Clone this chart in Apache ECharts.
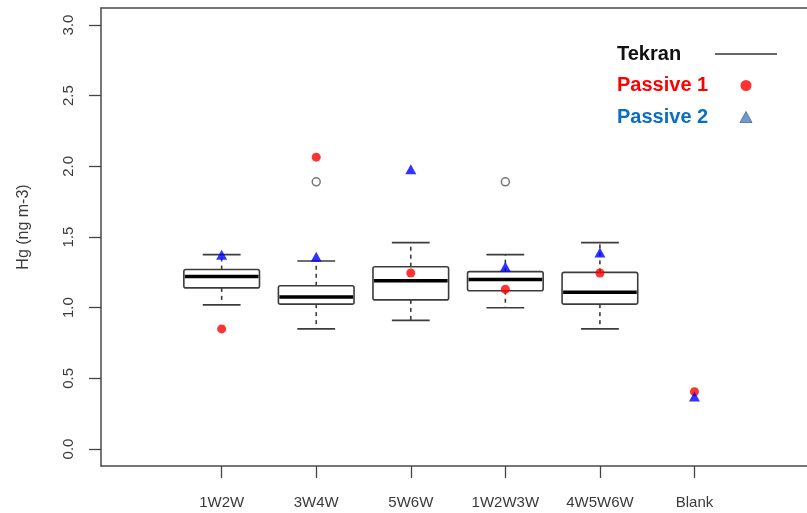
<!DOCTYPE html>
<html>
<head>
<meta charset="utf-8">
<script src="https://cdn.jsdelivr.net/npm/echarts@6/dist/echarts.min.js"></script>
<style>
html,body{margin:0;padding:0;background:#fff;}
#chart{width:807px;height:513px;}
</style>
</head>
<body>
<div id="chart"></div>
<script>
// ---- data ----
const categories = ['1W2W', '3W4W', '5W6W', '1W2W3W', '4W5W6W', 'Blank'];
const yTicks = [0, 0.5, 1.0, 1.5, 2.0, 2.5, 3.0];
// Tekran box statistics (first five categories)
const tekranLow    = [1.02, 0.85, 0.91, 1.00, 0.85];
const tekranQ1     = [1.14, 1.025, 1.055, 1.12, 1.025];
const tekranMedian = [1.22, 1.075, 1.19, 1.20, 1.11];
const tekranQ3     = [1.27, 1.155, 1.29, 1.255, 1.25];
const tekranHigh   = [1.375, 1.33, 1.46, 1.375, 1.46];
// Tekran outliers: [category name, value]
const tekranOutliers = [['3W4W', 1.89], ['1W2W3W', 1.89]];
const passive1 = [0.85, 2.065, 1.245, 1.13, 1.245, 0.405];
const passive2 = [1.375, 1.36, 1.98, 1.29, 1.39, 0.372];

// ---- build ----
const pos = name => categories.indexOf(name) + 1;
const boxData = tekranLow.map((v, i) => [i + 1, v, tekranQ1[i], tekranMedian[i], tekranQ3[i], tekranHigh[i]]);
const outlierData = tekranOutliers.map(d => [pos(d[0]), d[1]]);
const p1Data = passive1.map((v, i) => [i + 1, v]);
const p2Data = passive2.map((v, i) => [i + 1, v]);
const catPositions = categories.map((c, i) => i + 1);

const chart = echarts.init(document.getElementById('chart'), null, {renderer: 'canvas'});
const lineColor = '#3c3c3c';
const frameColor = '#4a4a4a';
const textColor = '#3a3a3a';
const legendFont = {fontFamily: 'Liberation Sans', fontWeight: 'bold', fontSize: 20};
const xMin = -0.276, xMax = 7.19;

chart.setOption({
  animation: false,
  backgroundColor: '#fff',
  grid: {left: 101, top: 8, bottom: 47, right: 0, show: false},
  legend: {
    orient: 'vertical',
    left: 612, top: 38,
    align: 'right',
    itemGap: 9.5,
    itemWidth: 62, itemHeight: 11,
    selectedMode: false,
    formatter: '{t|{name}}',
    textStyle: Object.assign({lineHeight: 22, rich: {t: Object.assign({width: 93, align: 'left', lineHeight: 22}, legendFont)}}, legendFont),
    data: [
      {name: 'Tekran', icon: 'path://M0 0H62V1.5H0Z', itemStyle: {color: '#333'}, textStyle: {color: '#111'}},
      {name: 'Passive 1', icon: 'circle', itemStyle: {color: '#ff0000'}, textStyle: {color: '#ff0000'}},
      {name: 'Passive 2', icon: 'path://M6 0L12 11H0Z', itemStyle: {color: '#4f7fbd', borderColor: '#3d6aa3', borderWidth: 1}, textStyle: {color: '#0a6fc2'}}
    ]
  },
  xAxis: [
    {
      type: 'value',
      position: 'bottom',
      min: xMin, max: xMax,
      axisLine: {show: true, onZero: false, lineStyle: {color: frameColor, width: 1.5}},
      splitLine: {show: false},
      axisTick: {show: true, inside: false, length: 12, customValues: catPositions, lineStyle: {color: '#444', width: 1.3}},
      axisLabel: {
        customValues: catPositions,
        margin: 29,
        fontFamily: 'Liberation Sans', fontSize: 15, color: textColor,
        formatter: v => categories[Math.round(v) - 1] || ''
      }
    },
    {
      type: 'value',
      position: 'top',
      min: xMin, max: xMax,
      axisLine: {show: true, onZero: false, lineStyle: {color: frameColor, width: 1.5}},
      splitLine: {show: false},
      axisTick: {show: false},
      axisLabel: {show: false}
    }
  ],
  yAxis: {
    type: 'value',
    min: -0.12, max: 3.12,
    name: 'Hg (ng m-3)',
    nameLocation: 'middle',
    nameGap: 69,
    nameMoveOverlap: false,
    nameTextStyle: {fontFamily: 'Liberation Sans', fontSize: 16, color: textColor, padding: [0, 0, 0, 20]},
    axisLine: {show: true, onZero: false, lineStyle: {color: frameColor, width: 1.5}},
    splitLine: {show: false},
    axisTick: {show: true, inside: false, length: 12, customValues: yTicks, lineStyle: {color: '#444', width: 1.3}},
    axisLabel: {
      customValues: yTicks,
      rotate: 90,
      margin: 25,
      fontFamily: 'Liberation Sans', fontSize: 15, color: textColor,
      formatter: v => v.toFixed(1)
    }
  },
  series: [
    {
      name: 'Tekran',
      type: 'custom',
      z: 2,
      data: boxData,
      encode: {x: 0, y: [1, 2, 3, 4, 5]},
      renderItem: function (params, api) {
        const x = api.value(0);
        const lo = api.coord([x, api.value(1)]);
        const q1 = api.coord([x, api.value(2)]);
        const md = api.coord([x, api.value(3)]);
        const q3 = api.coord([x, api.value(4)]);
        const hi = api.coord([x, api.value(5)]);
        const bw = api.size([0.8, 0])[0];
        const cw = bw / 2;
        const cx = lo[0];
        const st = {stroke: lineColor, lineWidth: 1.6, fill: null};
        const dash = {stroke: lineColor, lineWidth: 1.6, lineDash: [4, 4], fill: null};
        return {
          type: 'group',
          children: [
            {type: 'line', shape: {x1: cx, y1: q3[1], x2: cx, y2: hi[1]}, style: dash},
            {type: 'line', shape: {x1: cx, y1: q1[1], x2: cx, y2: lo[1]}, style: dash},
            {type: 'line', shape: {x1: cx - cw / 2, y1: hi[1], x2: cx + cw / 2, y2: hi[1]}, style: st},
            {type: 'line', shape: {x1: cx - cw / 2, y1: lo[1], x2: cx + cw / 2, y2: lo[1]}, style: st},
            {type: 'rect', shape: {x: cx - bw / 2, y: q3[1], width: bw, height: q1[1] - q3[1], r: 2},
              style: {stroke: lineColor, lineWidth: 1.6, fill: '#fff'}},
            {type: 'line', shape: {x1: cx - bw / 2 + 1, y1: md[1], x2: cx + bw / 2 - 1, y2: md[1]},
              style: {stroke: '#000', lineWidth: 3.5}}
          ]
        };
      }
    },
    {
      name: 'Tekran outliers',
      type: 'scatter',
      z: 3,
      data: outlierData,
      symbol: 'circle',
      symbolSize: 8,
      itemStyle: {color: '#fff', borderColor: '#555', borderWidth: 1.5}
    },
    {
      name: 'Passive 1',
      type: 'scatter',
      z: 4,
      data: p1Data,
      symbol: 'circle',
      symbolSize: 9,
      itemStyle: {color: '#ff0000'}
    },
    {
      name: 'Passive 2',
      type: 'scatter',
      z: 5,
      data: p2Data,
      symbol: 'triangle',
      symbolSize: [11, 10],
      itemStyle: {color: '#0000ff'}
    }
  ]
});
</script>
</body>
</html>
